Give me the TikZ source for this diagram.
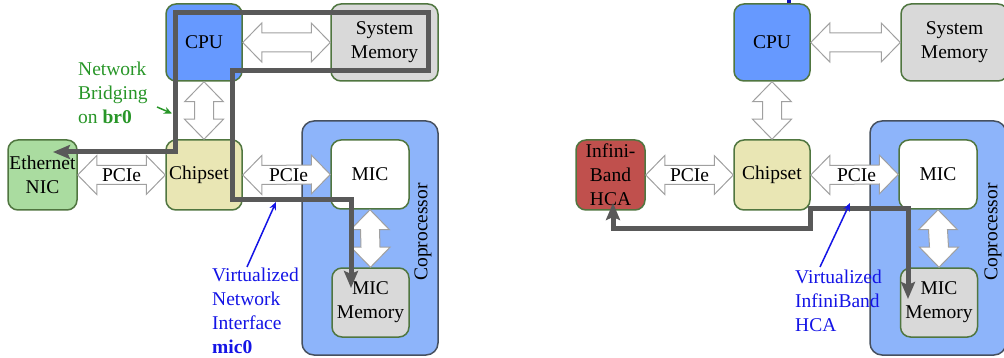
\documentclass[tikz,border=0pt]{standalone}
\usepackage{fontspec}
\setmainfont{Liberation Serif}
\usetikzlibrary{arrows.meta,calc}
\definecolor{cpublue}{RGB}{102,153,255}
\definecolor{memgray}{RGB}{217,217,217}
\definecolor{nicgreen}{RGB}{170,220,160}
\definecolor{chipbeige}{RGB}{233,230,180}
\definecolor{copblue}{RGB}{141,180,250}
\definecolor{hcared}{RGB}{192,80,77}
\definecolor{boxborder}{RGB}{80,118,64}
\definecolor{copborder}{RGB}{70,80,95}
\definecolor{pathgray}{RGB}{89,89,89}
\definecolor{notegreen}{RGB}{40,150,40}
\definecolor{noteblue}{RGB}{20,20,230}
\definecolor{arrowgray}{RGB}{160,160,160}
\newcommand\harr[2]{\draw[blockarrow] (#1) -- ++(19,-19.5) -- ++(0,10) -- ($(#2)+(-19,-9.5)$) -- ++(0,-10) -- (#2) -- ++(-19,19.5) -- ++(0,-10) -- ($(#1)+(19,9.5)$) -- ++(0,10) -- cycle;}
\newcommand\varr[2]{\draw[blockarrow] (#1) -- ++(19.5,20) -- ++(-10,0) -- ($(#2)+(9.5,-20)$) -- ++(10,0) -- (#2) -- ++(-19.5,-20) -- ++(10,0) -- ($(#1)+(-9.5,20)$) -- ++(-10,0) -- cycle;}
\begin{document}
\begin{tikzpicture}[x=1pt,y=-1pt,
 font=\fontsize{19.5}{24}\selectfont,
 box/.style={draw=boxborder, line width=1.5pt, rounded corners=10pt, align=center, inner sep=0pt},
 coproc/.style={draw=copborder, fill=copblue, line width=1.5pt, rounded corners=12pt, inner sep=0pt},
 blockarrow/.style={draw=arrowgray, fill=white, line width=1pt, line join=miter},
 flow/.style={draw=pathgray, line width=5pt, line join=miter, {Stealth[length=17pt,width=14pt,inset=3pt]}-{Stealth[length=17pt,width=14pt,inset=3pt]}},
 note/.style={align=left, anchor=north west, inner sep=0pt},
 notearrow/.style={line width=1.5pt, -{Stealth[length=8pt,width=7pt]}},
]
\clip (0,0) rectangle (1004,358);
\fill[white] (0,0) rectangle (1004,358);
% ---------- left diagram ----------
\node[coproc, minimum width=136pt, minimum height=234pt] (copL) at (370,238) {};
\node[rotate=90] (copLlab) at (423,232) {Coprocessor};
\node[box, fill=cpublue, minimum width=76pt, minimum height=77pt] (cpuL) at (204,42.5) {CPU};
\node[box, fill=memgray, minimum width=107pt, minimum height=77pt] (memL) at (384.5,42.5) {System\\Memory};
\node[box, fill=chipbeige, minimum width=76pt, minimum height=70pt] (chipL) at (204,175) {};
\node (chipLlab) at (199,175) {Chipset};
\node[box, fill=nicgreen, minimum width=69pt, minimum height=70pt] (eth) at (42.5,175) {Ethernet\\NIC};
\node[box, fill=white, minimum width=78pt, minimum height=69pt] (micL) at (370,174.5) {MIC};
\node[box, fill=memgray, minimum width=77pt, minimum height=69pt] (micmemL) at (370.5,302.5) {MIC\\Memory};
\harr{cpuL.east}{memL.west}
\varr{cpuL.south}{chipL.north}
\harr{eth.east}{chipL.west}
\harr{chipL.east}{micL.west}
\varr{micL.south}{micmemL.north}
\node (pcieL1) at ($(eth.east)!0.5!(chipL.west)$) {PCIe};
\node (pcieL2) at ($(chipL.east)!0.5!(micL.west)+(2,0)$) {PCIe};
\coordinate (fl0) at (53,152);
\coordinate (fl9) at (351,288);
\draw[flow] (fl0) -- (175,152) -- (175,13) -- (428,13) -- (428,71) -- (232,71) -- (232,199.5) -- (351,199.5) -- (fl9);
\node[note, text=notegreen] (bridge) at (78,62) {Network\\Bridging\\on \textbf{br0}};
\coordinate (gtip) at (172,113.5);
\draw[notearrow, notegreen] (157,107) -- (gtip);
\node[note, text=noteblue] (virtL) at (212,268) {Virtualized\\Network\\Interface\\\textbf{mic0}};
\coordinate (btipL) at (276,202);
\draw[notearrow, noteblue] (247,267) -- (btipL);
% ---------- right diagram ----------
\begin{scope}[xshift=568pt]
\node[coproc, minimum width=136pt, minimum height=234pt] (copR) at (370,238) {};
\node[rotate=90] (copRlab) at (425,232) {Coprocessor};
\node[box, fill=cpublue, minimum width=76pt, minimum height=77pt] (cpuR) at (204,42.5) {CPU};
\node[box, fill=memgray, minimum width=107pt, minimum height=77pt] (memR) at (386.5,42.5) {System\\Memory};
\node[box, fill=chipbeige, minimum width=76pt, minimum height=70pt] (chipR) at (204,175) {Chipset};
\node[box, fill=hcared, minimum width=69pt, minimum height=70pt] (hca) at (42.5,175) {Infini-\\Band\\HCA};
\node[box, fill=white, minimum width=78pt, minimum height=69pt] (micR) at (370,174.5) {MIC};
\node[box, fill=memgray, minimum width=77pt, minimum height=69pt] (micmemR) at (371,302.5) {MIC\\Memory};
\harr{cpuR.east}{memR.west}
\varr{cpuR.south}{chipR.north}
\harr{hca.east}{chipR.west}
\harr{chipR.east}{micR.west}
\varr{micR.south}{micmemR.north}
\node (pcieR1) at ($(hca.east)!0.5!(chipR.west)$) {PCIe};
\node (pcieR2) at ($(chipR.east)!0.5!(micR.west)+(2,0)$) {PCIe};
\coordinate (fr0) at (45,203);
\coordinate (fr9) at (340,299);
\draw[flow] (fr0) -- (45,229) -- (242,229) -- (242,209) -- (340,209) -- (fr9);
\node[note, text=noteblue] (virtR) at (227,270) {Virtualized\\InfiniBand\\HCA};
\coordinate (btipR) at (282,203);
\draw[notearrow, noteblue] (252,267) -- (btipR);
\coordinate (topin) at (221,-3);
\draw[line width=3.5pt, noteblue!80!black] (topin) -- (cpuR.north -| topin);
\end{scope}
\end{tikzpicture}
\end{document}
